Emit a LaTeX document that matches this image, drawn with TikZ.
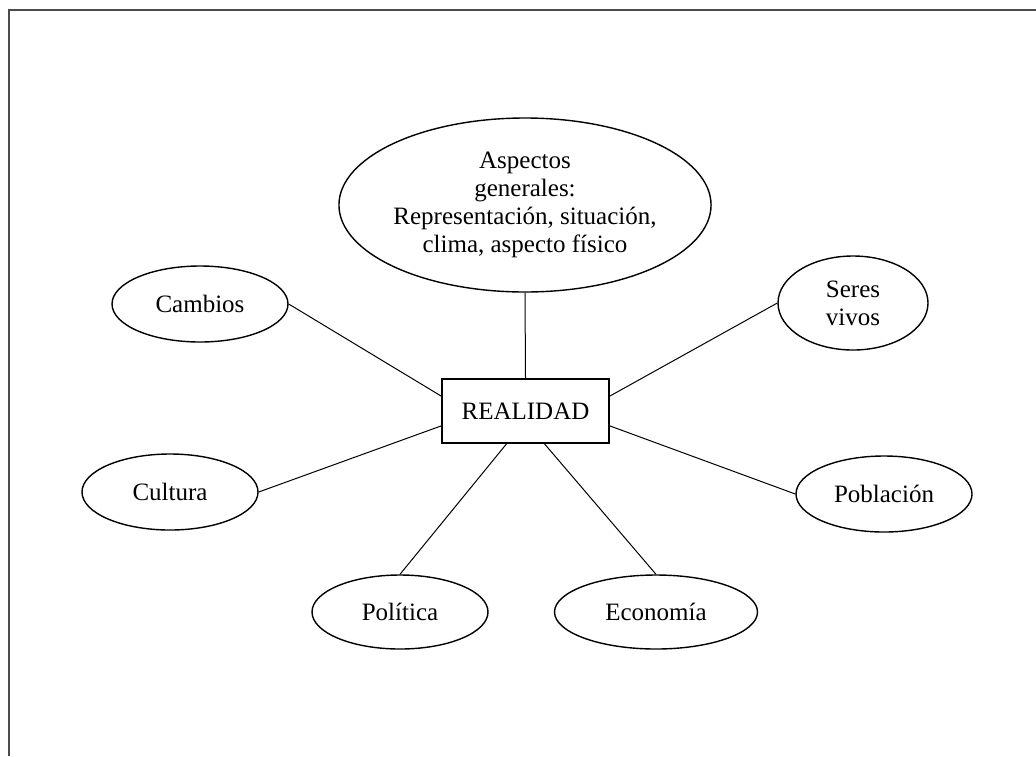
\documentclass[tikz,border=0pt]{standalone}
\usepackage{fontspec}
\setmainfont{Liberation Serif}
\usetikzlibrary{shapes.geometric}

\begin{document}
\begin{tikzpicture}[x=0.5pt,y=-0.5pt,
    tema/.style={draw, ellipse, inner sep=0pt, line width=0.7pt, align=center,
      font=\fontsize{12.5}{14}\selectfont},
    centro/.style={draw, rectangle, inner sep=0pt, line width=0.7pt,
      minimum width=83.5pt, minimum height=32pt, font=\fontsize{12.5}{14}\selectfont},
    enlace/.style={line width=0.5pt}]
    \useasboundingbox (0,0) rectangle (1036,756);

    % Frame
    \draw[line width=1pt, black!70] (9,756) -- (9,10) -- (1036,10);

    % Central node
    \node[centro] (real) at (525.5,411) {REALIDAD};

    % Topics
    \node[tema, minimum width=168pt, minimum height=87pt] (aspectos) at (525,205)
        {Aspectos\\generales:\\Representación, situación,\\clima, aspecto físico};
    \node[tema, minimum width=88pt, minimum height=38pt] (cambios) at (200,304) {Cambios};
    \node[tema, minimum width=75pt, minimum height=47pt] (seres) at (853,303) {Seres\\vivos};
    \node[tema, minimum width=88pt, minimum height=38pt] (cultura) at (170,492) {Cultura};
    \node[tema, minimum width=88pt, minimum height=38pt] (poblacion) at (884,494) {Población};
    \node[tema, minimum width=88pt, minimum height=37pt] (politica) at (400,612) {Política};
    \node[tema, minimum width=101.5pt, minimum height=37pt] (economia) at (656,612) {Economía};

    % Links
    \draw[enlace] (aspectos.south) -- (real.north);
    \draw[enlace] (cambios.east) -- (real.170);
    \draw[enlace] (cultura.east) -- (real.190);
    \draw[enlace] (seres.west) -- (real.10);
    \draw[enlace] (poblacion.west) -- (real.350);
    \draw[enlace] (politica.north) -- (real.240);
    \draw[enlace] (economia.north) -- (real.300);
\end{tikzpicture}
\end{document}
